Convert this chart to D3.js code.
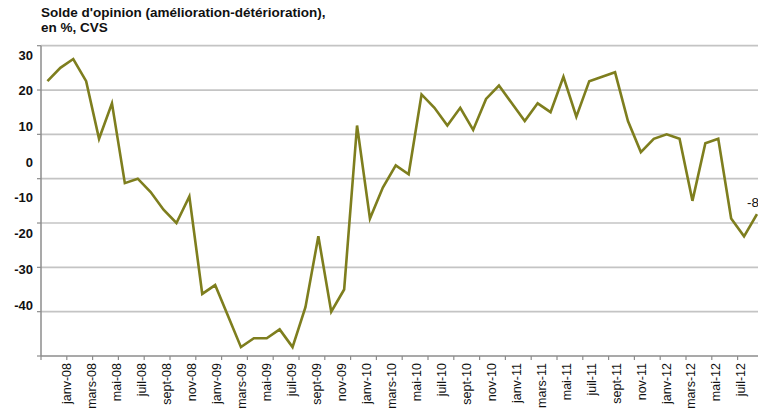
<!DOCTYPE html>
<html>
<head>
<meta charset="utf-8">
<script src="https://cdn.jsdelivr.net/npm/d3@7"></script>
<style>
  body { margin: 0; background: #fff; }
  text { font-family: Arial, "Liberation Sans", sans-serif; }
</style>
</head>
<body>
<svg id="chart" width="758" height="408"></svg>
<script>
// monthly categories, janv-08 .. août-12
var months = ["2008-01","2008-02","2008-03","2008-04","2008-05","2008-06","2008-07","2008-08","2008-09","2008-10","2008-11","2008-12",
  "2009-01","2009-02","2009-03","2009-04","2009-05","2009-06","2009-07","2009-08","2009-09","2009-10","2009-11","2009-12",
  "2010-01","2010-02","2010-03","2010-04","2010-05","2010-06","2010-07","2010-08","2010-09","2010-10","2010-11","2010-12",
  "2011-01","2011-02","2011-03","2011-04","2011-05","2011-06","2011-07","2011-08","2011-09","2011-10","2011-11","2011-12",
  "2012-01","2012-02","2012-03","2012-04","2012-05","2012-06","2012-07","2012-08"];

var solde = [22, 25, 27, 22, 9, 17, -1, 0, -3, -7, -10, -4,
  -26, -24, -31, -38, -36, -36, -34, -38, -29, -13, -30, -25,
  12, -9, -2, 3, 1, 19, 16, 12, 16, 11, 18, 21,
  17, 13, 17, 15, 23, 14, 22, 23, 24, 13, 6, 9,
  10, 9, -5, 8, 9, -9, -13, -8];

var xLabels = ["janv-08","mars-08","mai-08","juil-08","sept-08","nov-08",
  "janv-09","mars-09","mai-09","juil-09","sept-09","nov-09",
  "janv-10","mars-10","mai-10","juil-10","sept-10","nov-10",
  "janv-11","mars-11","mai-11","juil-11","sept-11","nov-11",
  "janv-12","mars-12","mai-12","juil-12"];

var yTicks = [30, 20, 10, 0, -10, -20, -30, -40];

var svg = d3.select("#chart");

var x = d3.scaleBand().domain(months).range([41, 763.4]);
var y = d3.scaleLinear().domain([-40, 30]).range([356, 45.7]);
// tick labels on the y side sit on their own (squeezed) scale in the original
var yLab = d3.scaleLinear().domain([30, -40]).range([55, 305]);
var xLab = d3.scalePoint().domain(xLabels).range([66.4, 741.1]);

// gridlines
svg.append("g").selectAll("line")
  .data(yTicks)
  .enter().append("line")
  .attr("x1", 41).attr("x2", 758)
  .attr("y1", function(d){ return y(d); })
  .attr("y2", function(d){ return y(d); })
  .attr("stroke", d => d == -40 ? "#8c8c8c" : "#c4c4c4")
  .attr("stroke-width", 1.7);

// y axis line + ticks
svg.append("line")
  .attr("x1", 41).attr("x2", 41)
  .attr("y1", y(30)).attr("y2", y(-40))
  .attr("stroke", "#8c8c8c").attr("stroke-width", 1.5);
svg.append("g").selectAll("line")
  .data(yTicks)
  .enter().append("line")
  .attr("x1", 37).attr("x2", 41)
  .attr("y1", d => y(d)).attr("y2", d => y(d))
  .attr("stroke", "#8c8c8c").attr("stroke-width", 1.2);

svg.append("g").selectAll("text")
  .data(yTicks)
  .enter().append("text")
  .attr("x", 33)
  .attr("y", d => yLab(d))
  .attr("dy", "0.35em")
  .attr("text-anchor", "end")
  .attr("font-size", 13)
  .attr("font-weight", "bold")
  .attr("fill", "#111")
  .text(d => d);

// x ticks every two months
var tickMonths = months.filter(function(m, i){ return i % 2 == 0; });
svg.append("g").selectAll("line")
  .data(tickMonths)
  .enter().append("line")
  .attr("x1", d => x(d)).attr("x2", d => x(d))
  .attr("y1", 356).attr("y2", 360)
  .attr("stroke", "#8c8c8c").attr("stroke-width", 1.2);

svg.append("g").selectAll("text")
  .data(xLabels)
  .enter().append("text")
  .attr("transform", d => "translate(" + xLab(d) + ",363) rotate(-90)")
  .attr("dy", "0.35em")
  .attr("text-anchor", "end")
  .attr("font-size", 12.5)
  .attr("fill", "#111")
  .text(d => d);

// the series
var line = d3.line()
  .x(function(d, i){ return x(months[i]) + x.bandwidth() / 2; })
  .y(function(d){ return y(d); });

svg.append("path")
  .datum(solde)
  .attr("fill", "none")
  .attr("stroke", "#7e7e1e")
  .attr("stroke-width", 2.6)
  .attr("stroke-linejoin", "miter")
  .attr("d", line);

// last value label
var last = solde.length - 1;
svg.append("text")
  .attr("x", x(months[last]) + x.bandwidth() / 2 - 4)
  .attr("y", y(solde[last]) - 12)
  .attr("dy", "0.35em")
  .attr("text-anchor", "middle")
  .attr("font-size", 13.5)
  .attr("fill", "#111")
  .text(solde[last]);

// title
var title = svg.append("text")
  .attr("x", 41)
  .attr("font-size", 13.5)
  .attr("font-weight", "bold")
  .attr("fill", "#111");
title.append("tspan").attr("x", 41).attr("y", 17).text("Solde d'opinion (amélioration-détérioration),");
title.append("tspan").attr("x", 41).attr("y", 32).text("en %, CVS");
</script>
</body>
</html>
